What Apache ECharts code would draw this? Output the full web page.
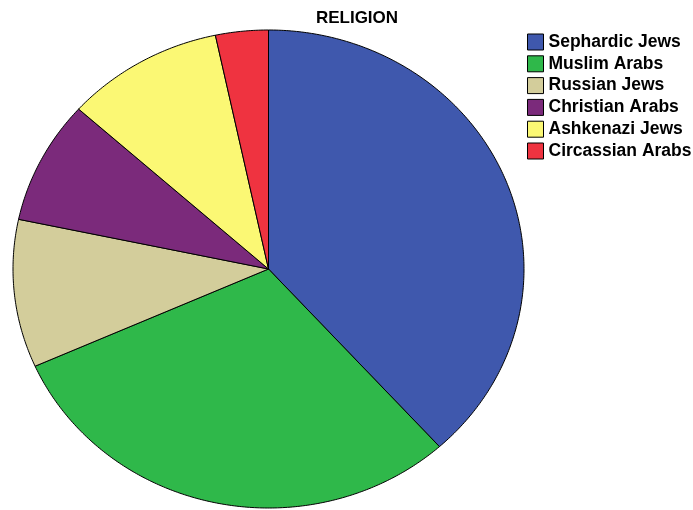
<!DOCTYPE html>
<html>
<head>
<meta charset="utf-8">
<script src="https://cdn.jsdelivr.net/npm/echarts@6/dist/echarts.min.js"></script>
<style>
html, body { margin: 0; padding: 0; background: #fff; }
#chart { width: 693px; height: 510px; }
</style>
</head>
<body>
<div id="chart"></div>
<script>
var groups = ["Sephardic Jews", "Muslim Arabs", "Russian Jews", "Christian Arabs", "Ashkenazi Jews", "Circassian Arabs"];
var counts = [46, 36, 12, 10, 12, 4];
var colors = ["#3f58ad", "#2fb84a", "#d3cd9b", "#7b2a7b", "#fbf874", "#ef3340"];

var total = 0;
for (var i = 0; i < counts.length; i++) total += counts[i];

// the original pie is a bit wider than tall, so draw the slices as ellipse sectors
var cx = 268.5, cy = 269, rx = 255.5, ry = 239;

var makeRender = function (idx) {
	return function (params, api) {
		var before = 0;
		for (var k = 0; k < idx; k++) before += counts[k];
		var a0 = before / total * Math.PI * 2;
		var a1 = (before + api.value(0)) / total * Math.PI * 2;
		var pts = [[cx, cy]];
		var steps = Math.max(4, Math.ceil((a1 - a0) / 0.01));
		for (var s = 0; s <= steps; s++) {
			var t = a0 + (a1 - a0) * s / steps;
			pts.push([cx + rx * Math.sin(t), cy - ry * Math.cos(t)]);
		}
		return {
			type: 'polygon',
			shape: { points: pts },
			style: { fill: colors[idx], stroke: '#000', lineWidth: 1 }
		};
	};
};

var series = [];
for (var j = 0; j < groups.length; j++) {
	series.push({
		type: 'custom',
		name: groups[j],
		coordinateSystem: 'none',
		data: [[counts[j]]],
		itemStyle: { color: colors[j] },
		renderItem: makeRender(j),
		animation: false
	});
}

var chart = echarts.init(document.getElementById('chart'));
chart.setOption({
	backgroundColor: '#fff',
	animation: false,
	title: {
		text: 'RELIGION',
		left: 352,
		top: 5,
		textAlign: 'center',
		textStyle: { fontFamily: 'Liberation Sans, Arial', fontWeight: 'bold', fontSize: 17, color: '#000' }
	},
	legend: {
		orient: 'vertical',
		left: 522,
		top: 28,
		itemWidth: 16,
		itemHeight: 16,
		itemGap: 3.8,
		icon: 'rect',
		itemStyle: { borderColor: '#000', borderWidth: 1 },
		textStyle: { fontFamily: 'Liberation Sans, Arial', fontWeight: 'bold', fontSize: 17.5, color: '#000' },
		data: groups
	},
	series: series
});
</script>
</body>
</html>
